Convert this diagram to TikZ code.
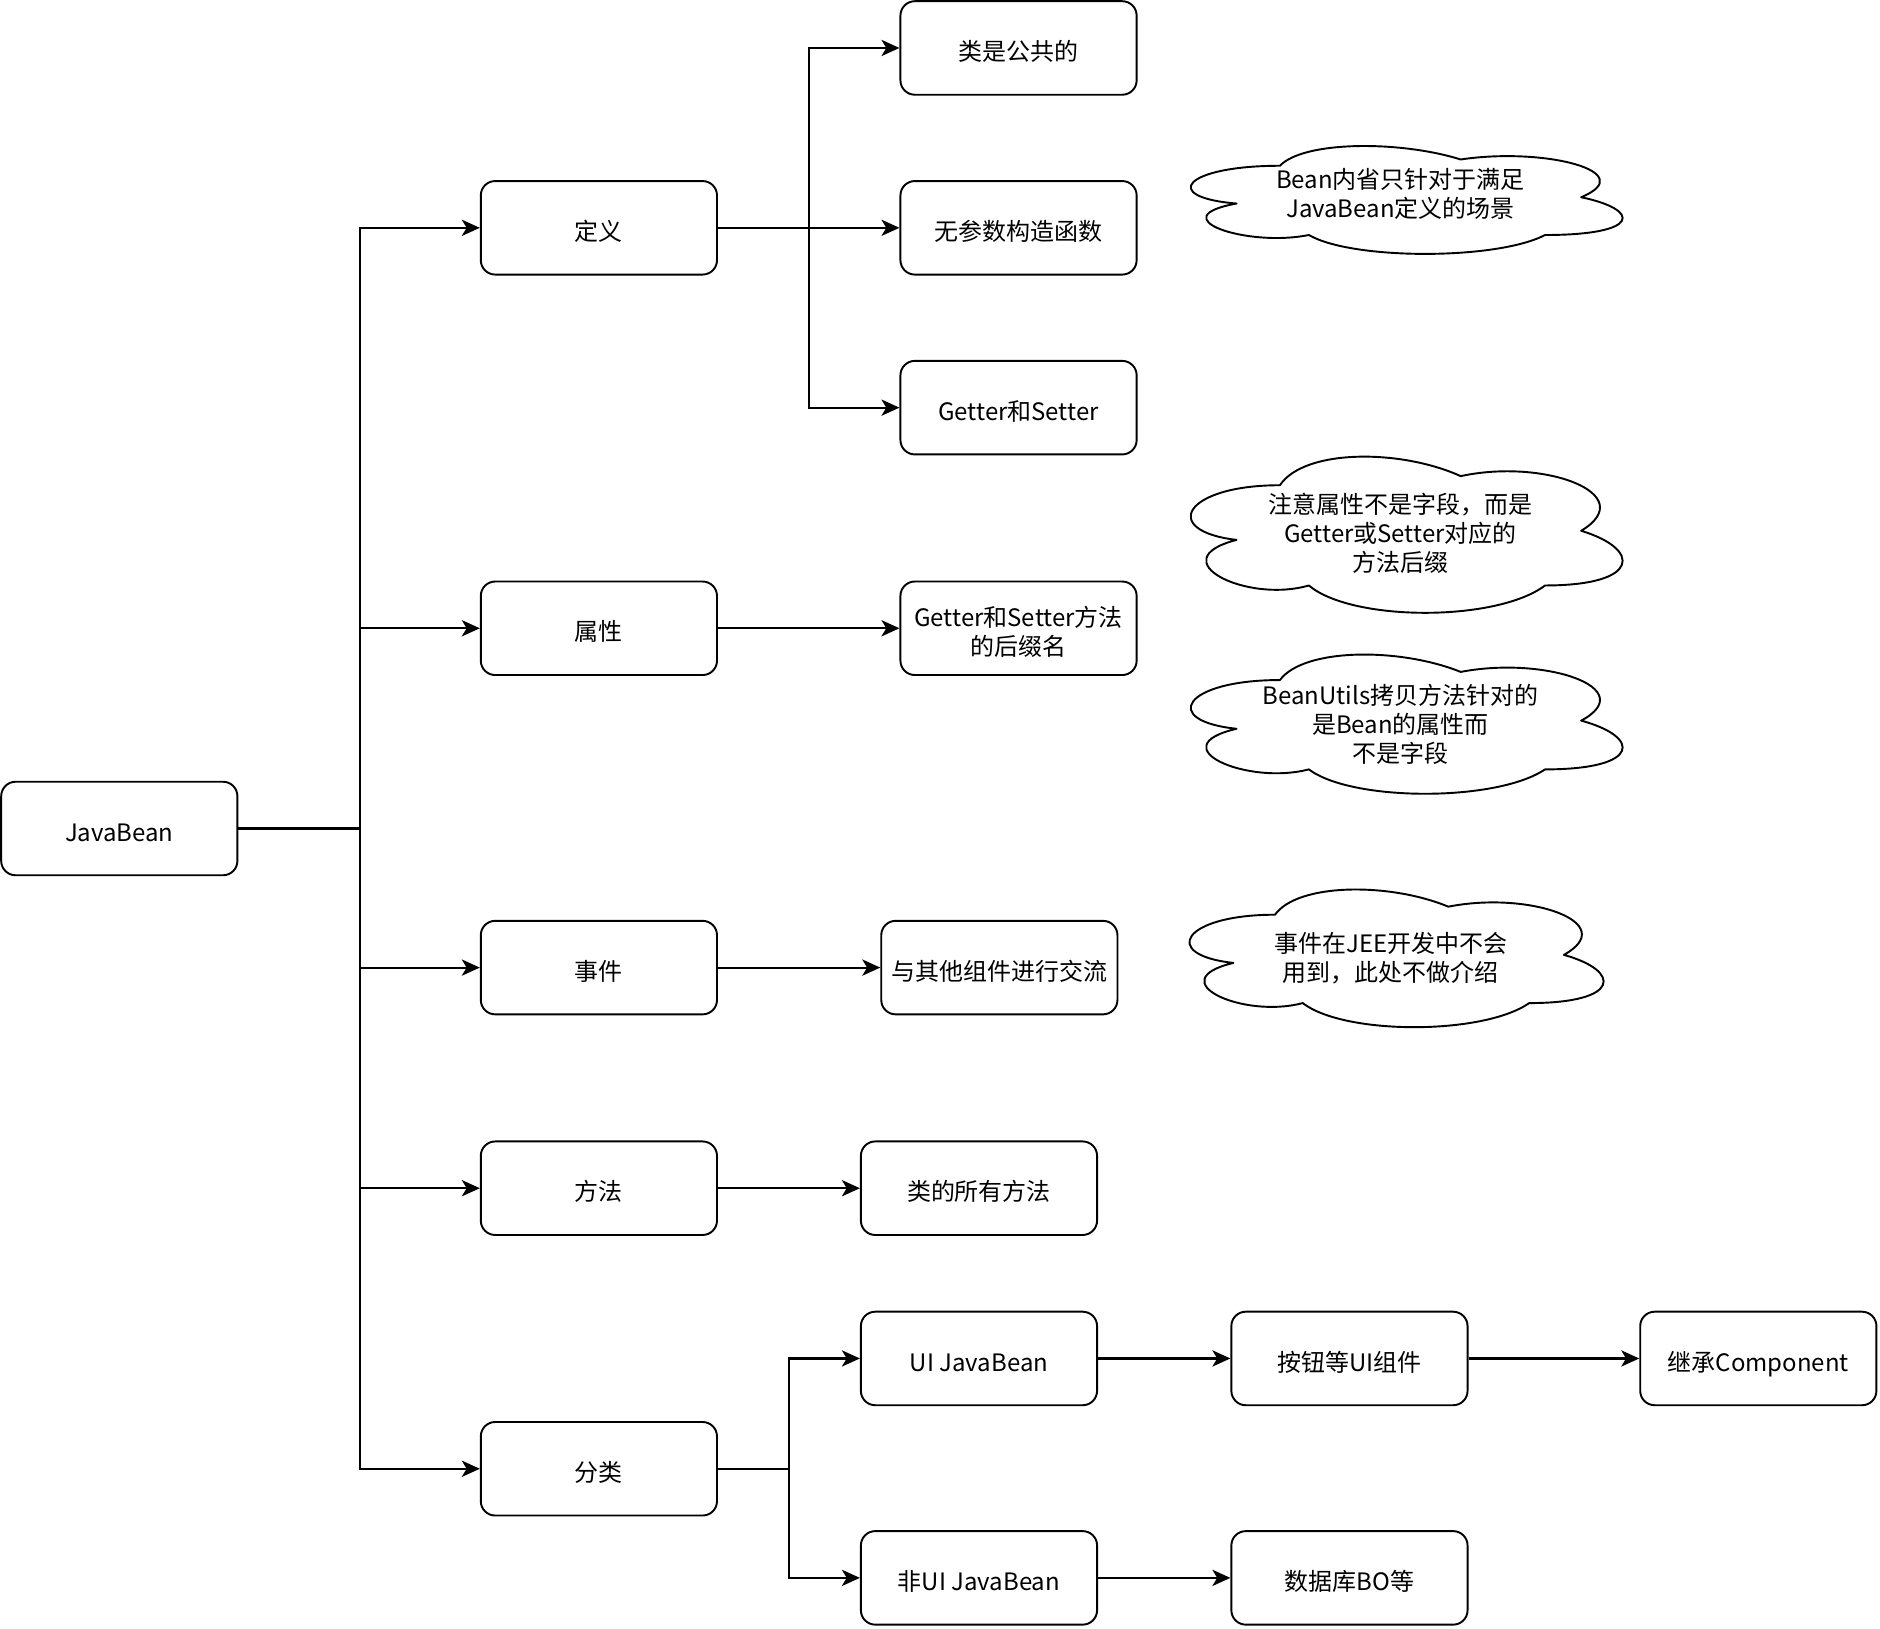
\documentclass[tikz,border=0pt]{standalone}
\usepackage{fontspec}
\setmainfont{Noto Sans CJK SC}
\usetikzlibrary{arrows.meta}
\newcommand\diagfont{\fontsize{20}{24}\selectfont}
\newcommand\bt[1]{\raisebox{-5.8pt}[\height][\depth]{\begin{tabular}{@{}c@{}}#1\end{tabular}}}
\newcommand\drawcloud[4]{%
  \begin{scope}[shift={(#1,#2)},xscale=#3,yscale=#4]
    \draw[cloudline] (0.25,0.25) .. controls (0.05,0.25) and (0,0.5) .. (0.16,0.55)
      .. controls (0,0.66) and (0.18,0.9) .. (0.31,0.8)
      .. controls (0.4,1) and (0.7,1) .. (0.8,0.8)
      .. controls (1,0.8) and (1,0.6) .. (0.875,0.5)
      .. controls (1,0.3) and (0.8,0.1) .. (0.625,0.2)
      .. controls (0.5,0.05) and (0.3,0.05) .. (0.25,0.25) -- cycle;
  \end{scope}}
\begin{document}
\begin{tikzpicture}[x=1pt,y=-1pt,
  box/.style={draw, line width=1.6pt, rounded corners=12pt, minimum width=197pt,
    minimum height=78pt, inner sep=0pt, align=center, font=\diagfont},
  conn/.style={line width=1.8pt, -{Stealth[length=15pt,width=13.5pt,inset=4pt]}},
  cloudline/.style={line width=1.6pt, line join=round},
  note/.style={align=center, font=\diagfont, inner sep=0pt}]
\useasboundingbox (0,0) rectangle (1568,1358);

% boxes
\node[box] (jb) at (99.5,691) {\bt{JavaBean}};
\node[box] (dy) at (499.5,190) {\bt{定义}};
\node[box] (sx) at (499.5,524) {\bt{属性}};
\node[box] (sj) at (499.5,807) {\bt{事件}};
\node[box] (ff) at (499.5,991) {\bt{方法}};
\node[box] (fl) at (499.5,1225) {\bt{分类}};
\node[box] (a1) at (849.5,40) {\bt{类是公共的}};
\node[box] (a2) at (849.5,190) {\bt{无参数构造函数}};
\node[box] (a3) at (849.5,340) {\bt{Getter和Setter}};
\node[box] (b1) at (849.5,524) {\bt{Getter和Setter方法\\的后缀名}};
\node[box] (c1) at (833.5,807) {\bt{与其他组件进行交流}};
\node[box] (d1) at (816.5,991) {\bt{类的所有方法}};
\node[box] (e1) at (816.5,1133) {\bt{UI JavaBean}};
\node[box] (e2) at (816.5,1316) {\bt{非UI JavaBean}};
\node[box] (f1) at (1125.5,1133) {\bt{按钮等UI组件}};
\node[box] (f2) at (1125.5,1316) {\bt{数据库BO等}};
\node[box] (g1) at (1466.5,1133) {\bt{继承Component}};

% junctions
\coordinate (t0) at (300,691);
\coordinate (t1) at (675,190);
\coordinate (t2) at (658,1225);

% connectors
\draw[conn] (jb.east) -- (t0) |- (dy.west);
\draw[conn] (jb.east) -- (t0) |- (sx.west);
\draw[conn] (jb.east) -- (t0) |- (sj.west);
\draw[conn] (jb.east) -- (t0) |- (ff.west);
\draw[conn] (jb.east) -- (t0) |- (fl.west);
\draw[conn] (dy.east) -- (t1) |- (a1.west);
\draw[conn] (dy.east) -- (a2.west);
\draw[conn] (dy.east) -- (t1) |- (a3.west);
\draw[conn] (sx.east) -- (b1.west);
\draw[conn] (sj.east) -- (c1.west);
\draw[conn] (ff.east) -- (d1.west);
\draw[conn] (fl.east) -- (t2) |- (e1.west);
\draw[conn] (fl.east) -- (t2) |- (e2.west);
\draw[conn] (e1.east) -- (f1.west);
\draw[conn] (f1.east) -- (g1.west);
\draw[conn] (e2.east) -- (f2.west);

% clouds
\drawcloud{967}{112}{402}{105}
\node[note] (n1) at (1168,161.5) {Bean内省只针对于满足\\JavaBean定义的场景};
\drawcloud{967}{366.7}{402}{152}
\node[note] (n2) at (1168,445) {注意属性不是字段，而是\\Getter或Setter对应的\\方法后缀};
\drawcloud{967}{533.3}{402}{135.5}
\node[note] (n3) at (1168,604) {BeanUtils拷贝方法针对的\\是Bean的属性而\\不是字段};
\drawcloud{967}{729.4}{385.5}{134}
\node[note] (n4) at (1160,799) {事件在JEE开发中不会\\用到，此处不做介绍};
\end{tikzpicture}
\end{document}
